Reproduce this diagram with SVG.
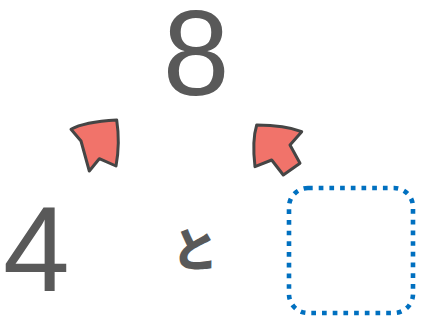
<svg xmlns="http://www.w3.org/2000/svg" width="421" height="320" viewBox="0 0 421 320">
<style>
.num{font-family:"Liberation Sans",Arial,sans-serif;font-size:120px;fill:#595959}
.arrow{fill:#F1736A;stroke:#454545;stroke-width:3;stroke-linejoin:round}
.to{font-family:"Noto Sans CJK JP",sans-serif;font-weight:900;font-size:46px;fill:#595959}
.box{fill:none;stroke:#0070C0;stroke-width:4.6;stroke-dasharray:4.7 6}
</style>
<g id="n8"><text class="num" x="196" y="95" text-anchor="middle">8</text></g>
<g id="n4"><text class="num" x="3" y="291">4</text></g>
<g id="to"><text class="to" x="195" y="266" text-anchor="middle">と</text></g>
<g id="blank"><rect class="box" x="289" y="188" width="124" height="125" rx="19"/></g>
<g id="connectors">
<path class="arrow" d="M116.7,120 C100,121 82,123 71,129.3 L81,141 L89.3,171 L99.3,158.7 L116,166 C119,150 119,135 116.7,120 Z"/>
<path class="arrow" d="M256.7,125 C272,125 290,127 301.7,131.7 L290,145 L300,163.3 L283.3,175 L271.7,160 L255,166.7 C253,150 253,137 256.7,125 Z"/>
</g>
</svg>
